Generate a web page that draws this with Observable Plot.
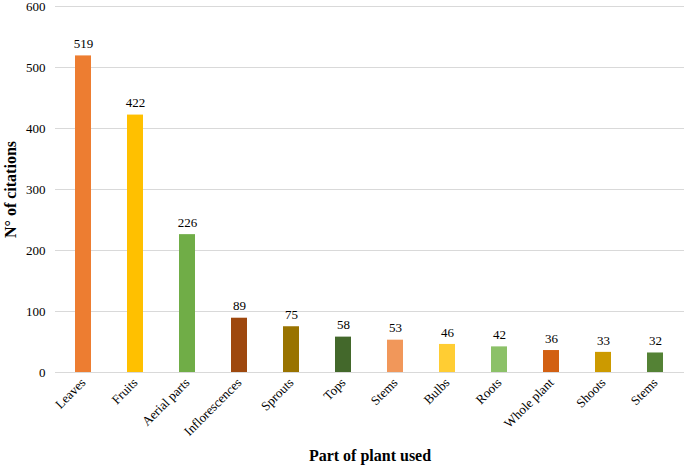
<!DOCTYPE html>
<html>
<head>
<meta charset="utf-8">
<script src="https://cdn.jsdelivr.net/npm/d3@7"></script>
<script src="https://cdn.jsdelivr.net/npm/@observablehq/plot@0.6"></script>
<style>
  html, body { margin: 0; padding: 0; background: #fff; }
  #chart svg { display: block; }
</style>
</head>
<body>
<div id="chart"></div>
<script>
const parts = ["Leaves", "Fruits", "Aerial parts", "Inflorescences", "Sprouts", "Tops", "Stems", "Bulbs", "Roots", "Whole plant", "Shoots", "Stems"];
const citations = [519, 422, 226, 89, 75, 58, 53, 46, 42, 36, 33, 32];
const colors = ["#ED7D31", "#FFC000", "#70AD47", "#9E480E", "#997300", "#43682B", "#F1975A", "#FFCD33", "#8CC168", "#D26012", "#CC9A00", "#548235"];
const yTicks = [0, 100, 200, 300, 400, 500, 600];

const data = parts.map((p, i) => ({i, part: p, value: citations[i], color: colors[i]}));

const chart = Plot.plot({
  width: 685,
  height: 468,
  marginLeft: 55,
  marginRight: 1,
  marginTop: 6,
  marginBottom: 96,
  style: {fontFamily: "'Liberation Serif', 'Times New Roman', serif", fontSize: "13px", color: "#000"},
  x: {domain: d3.range(parts.length), paddingInner: 0.69, paddingOuter: 0.345, label: null},
  y: {domain: [0, 600], label: null},
  marks: [
    Plot.gridY(yTicks, {stroke: "#d9d9d9", strokeOpacity: 1, strokeWidth: 1}),
    Plot.barY(data, {x: "i", y: "value", fill: "color"}),
    Plot.text(data, {x: "i", y: "value", text: d => String(d.value), dy: -12, fontSize: 13, fill: "#000"}),
    Plot.axisY({ticks: yTicks, tickSize: 0, tickPadding: 10, fontSize: 13, label: "N° of citations", labelAnchor: "center", labelArrow: "none", labelOffset: 51}),
    Plot.axisX({tickFormat: i => parts[i], tickRotate: -45, tickSize: 0, tickPadding: 8, fontSize: 13, label: "Part of plant used", labelAnchor: "center", labelArrow: "none", labelOffset: 88})
  ]
});
document.getElementById("chart").appendChild(chart);
// bold axis titles
chart.querySelectorAll("g[aria-label='y-axis label'] text, g[aria-label='x-axis label'] text").forEach(t => {
  t.setAttribute("font-weight", "bold");
  t.setAttribute("font-size", "16");
});
</script>
</body>
</html>
